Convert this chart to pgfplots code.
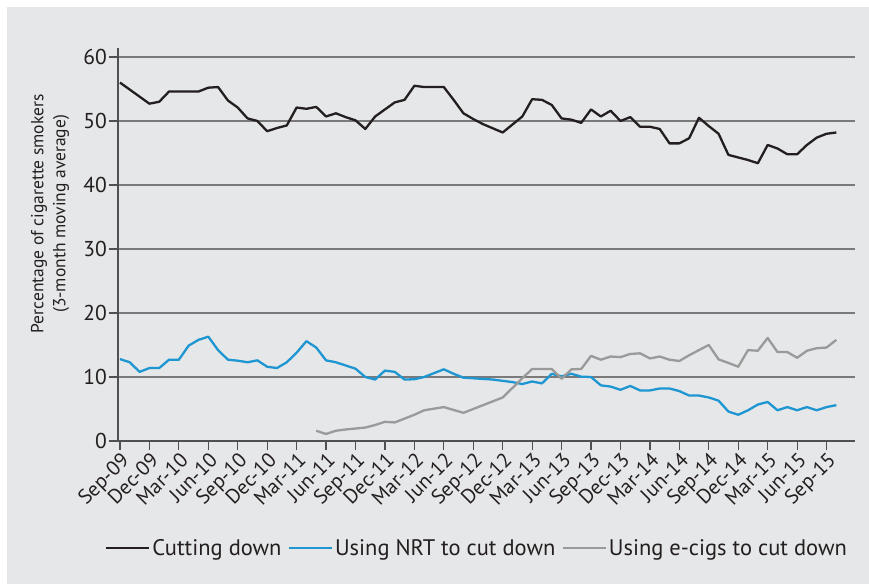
\documentclass[border=0pt]{standalone}
\usepackage{pgfplots}
\pgfplotsset{compat=1.18}
\usepackage{fontspec}
\setmainfont{PT Sans}
\definecolor{bg}{HTML}{E6E7E8}
\definecolor{cblack}{HTML}{231F20}
\definecolor{cblue}{HTML}{1E96D2}
\definecolor{cgray}{HTML}{9A9A9A}
\definecolor{gridc}{HTML}{7A7A7A}
\definecolor{axc}{HTML}{505050}
\begin{document}
\begin{tikzpicture}[x=1pt,y=1pt]
\useasboundingbox (0,0) rectangle (869,584);
\clip (0,0) rectangle (869,584);
\fill[white] (0,0) rectangle (869,584);
\fill[bg] (7,0) rectangle (869,577);
\begin{axis}[
  at={(118pt,143pt)}, anchor=south west,
  scale only axis, width=737pt, height=393pt,
  xmin=-0.2, xmax=74.9, ymin=0, ymax=61.4,
  axis x line=bottom, axis y line=left,
  axis line style={-, axc, line width=1.2pt},
  xtick={0,3,...,72},
  xticklabels={Sep-09,Dec-09,Mar-10,Jun-10,Sep-10,Dec-10,Mar-11,Jun-11,Sep-11,Dec-11,Mar-12,Jun-12,Sep-12,Dec-12,Mar-13,Jun-13,Sep-13,Dec-13,Mar-14,Jun-14,Sep-14,Dec-14,Mar-15,Jun-15,Sep-15},
  xticklabel style={rotate=45, anchor=north east, inner sep=1pt, font=\fontsize{20.5}{22}\selectfont, text=cblack},
  ytick={0,10,...,60},
  yticklabel style={font=\fontsize{21.5}{24}\selectfont, text=cblack, inner sep=2pt},
  /pgf/number format/assume math mode=true,
  tick align=outside, major tick length=9pt,
  tick style={axc, line width=1.2pt},
  ymajorgrids, major grid style={gridc, line width=1.3pt},
  ylabel={Percentage of cigarette smokers\\(3-month moving average)},
  ylabel style={align=center, font=\fontsize{17.5}{22}\selectfont, text=cblack, at={(axis description cs:-0.092,0.578)}, anchor=center},
  legend columns=3,
  legend style={draw=none, fill=none, at={(axis description cs:0.487,-0.272)}, anchor=center, font=\fontsize{22.5}{25}\selectfont, text=cblack, /tikz/every even column/.append style={column sep=4pt}, /tikz/every odd column/.append style={column sep=0pt}},
  legend image code/.code={\draw[#1, line width=2.5pt] (-3pt,0pt) -- (40pt,0pt);},
  every axis plot/.append style={line width=2.3pt, line join=round},
]
\addplot[cblack, mark=none] coordinates {
(0,56.0)(1,54.9)(2,53.8)(3,52.7)(4,53.0)(5,54.6)(6,54.6)(7,54.6)(8,54.6)(9,55.2)
(10,55.3)(11,53.2)(12,52.1)(13,50.4)(14,50.0)(15,48.4)(16,48.9)(17,49.3)(18,52.1)(19,51.9)
(20,52.2)(21,50.7)(22,51.2)(23,50.6)(24,50.1)(25,48.75)(26,50.7)(27,51.8)(28,52.9)(29,53.3)
(30,55.5)(31,55.3)(32,55.3)(33,55.3)(34,53.3)(35,51.2)(36,50.3)(37,49.5)(38,48.85)(39,48.2)
(40,49.45)(41,50.7)(42,53.4)(43,53.3)(44,52.5)(45,50.4)(46,50.2)(47,49.7)(48,51.8)(49,50.7)
(50,51.6)(51,50.0)(52,50.6)(53,49.1)(54,49.1)(55,48.75)(56,46.5)(57,46.5)(58,47.3)(59,50.5)
(60,49.2)(61,48.0)(62,44.7)(63,44.3)(64,43.9)(65,43.4)(66,46.25)(67,45.7)(68,44.8)(69,44.8)
(70,46.25)(71,47.4)(72,48.0)(73,48.2)
};
\addlegendentry{Cutting down}
\addplot[cblue, mark=none] coordinates {
(0,12.8)(1,12.3)(2,10.8)(3,11.4)(4,11.4)(5,12.7)(6,12.7)(7,14.9)(8,15.8)(9,16.3)
(10,14.2)(11,12.7)(12,12.55)(13,12.3)(14,12.6)(15,11.6)(16,11.4)(17,12.3)(18,13.8)(19,15.6)
(20,14.6)(21,12.6)(22,12.3)(23,11.8)(24,11.3)(25,10.0)(26,9.6)(27,11.0)(28,10.8)(29,9.6)
(30,9.65)(31,10.0)(32,10.6)(33,11.2)(34,10.5)(35,9.9)(36,9.8)(37,9.7)(38,9.6)(39,9.4)
(40,9.2)(41,8.9)(42,9.3)(43,9.0)(44,10.5)(45,10.1)(46,10.5)(47,10.05)(48,10.0)(49,8.7)
(50,8.5)(51,8.0)(52,8.6)(53,7.9)(54,7.9)(55,8.2)(56,8.2)(57,7.8)(58,7.1)(59,7.1)
(60,6.8)(61,6.3)(62,4.6)(63,4.1)(64,4.8)(65,5.7)(66,6.1)(67,4.8)(68,5.3)(69,4.8)
(70,5.3)(71,4.8)(72,5.3)(73,5.6)
};
\addlegendentry{Using NRT to cut down}
\addplot[cgray, mark=none] coordinates {
(20,1.6)(21,1.1)(22,1.6)(23,1.8)(24,1.95)(25,2.1)(26,2.5)(27,3.0)(28,2.9)(29,3.5)
(30,4.1)(31,4.8)(32,5.05)(33,5.3)(34,4.85)(35,4.4)(36,5.0)(37,5.6)(38,6.2)(39,6.8)
(40,8.3)(41,9.8)(42,11.25)(43,11.25)(44,11.25)(45,9.7)(46,11.2)(47,11.25)(48,13.3)(49,12.7)
(50,13.2)(51,13.1)(52,13.6)(53,13.7)(54,12.9)(55,13.2)(56,12.7)(57,12.5)(58,13.4)(59,14.2)
(60,15.0)(61,12.75)(62,12.2)(63,11.6)(64,14.2)(65,14.1)(66,16.1)(67,13.9)(68,13.9)(69,13.0)
(70,14.1)(71,14.5)(72,14.6)(73,15.8)
};
\addlegendentry{Using e-cigs to cut down}
\end{axis}
\end{tikzpicture}
\end{document}
